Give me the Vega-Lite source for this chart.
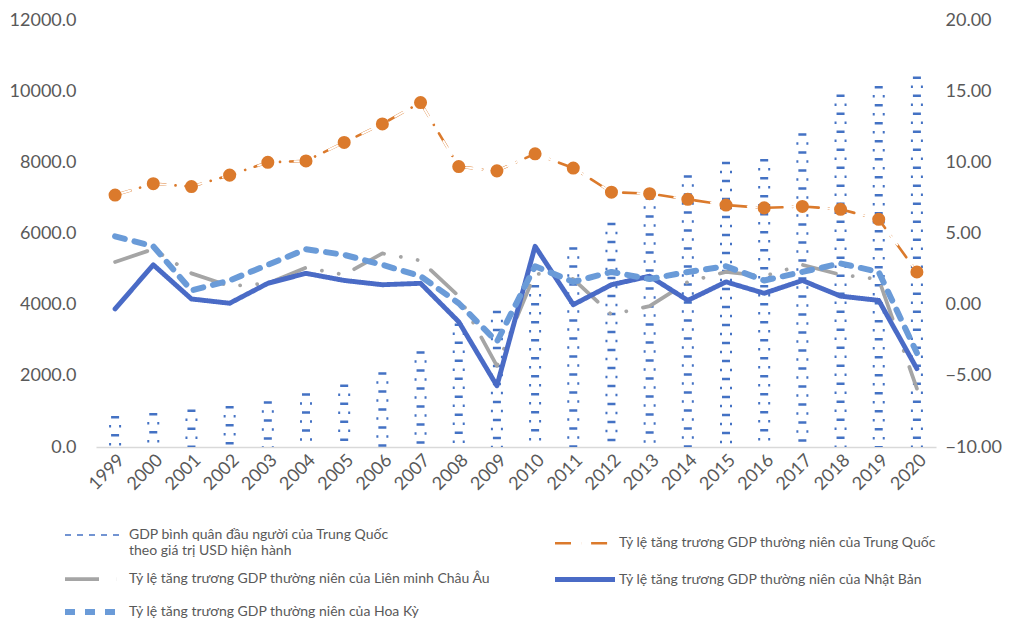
{
  "$schema": "https://vega.github.io/schema/vega-lite/v6.json",
  "width": 840,
  "height": 427,
  "padding": {"left": 9, "top": 11, "right": 5, "bottom": 0},
  "background": "white",
  "config": {
    "view": {"stroke": null},
    "font": "Lato",
    "axis": {"grid": false, "ticks": false, "domain": false, "labelColor": "#595959", "labelFontSize": 18, "labelFont": "Lato", "title": null}
  },
  "datasets": {
    "gdp": [
      {"year": "1999", "value": 873}, {"year": "2000", "value": 959}, {"year": "2001", "value": 1053},
      {"year": "2002", "value": 1149}, {"year": "2003", "value": 1289}, {"year": "2004", "value": 1509},
      {"year": "2005", "value": 1753}, {"year": "2006", "value": 2099}, {"year": "2007", "value": 2694},
      {"year": "2008", "value": 3468}, {"year": "2009", "value": 3832}, {"year": "2010", "value": 4550},
      {"year": "2011", "value": 5614}, {"year": "2012", "value": 6301}, {"year": "2013", "value": 7020},
      {"year": "2014", "value": 7636}, {"year": "2015", "value": 8016}, {"year": "2016", "value": 8094},
      {"year": "2017", "value": 8817}, {"year": "2018", "value": 9905}, {"year": "2019", "value": 10144},
      {"year": "2020", "value": 10409}
    ],
    "growth": [
      {"year": "1999", "series": "Tỷ lệ tăng trương GDP thường niên của Trung Quốc", "value": 7.7},
      {"year": "2000", "series": "Tỷ lệ tăng trương GDP thường niên của Trung Quốc", "value": 8.5},
      {"year": "2001", "series": "Tỷ lệ tăng trương GDP thường niên của Trung Quốc", "value": 8.3},
      {"year": "2002", "series": "Tỷ lệ tăng trương GDP thường niên của Trung Quốc", "value": 9.1},
      {"year": "2003", "series": "Tỷ lệ tăng trương GDP thường niên của Trung Quốc", "value": 10.0},
      {"year": "2004", "series": "Tỷ lệ tăng trương GDP thường niên của Trung Quốc", "value": 10.1},
      {"year": "2005", "series": "Tỷ lệ tăng trương GDP thường niên của Trung Quốc", "value": 11.4},
      {"year": "2006", "series": "Tỷ lệ tăng trương GDP thường niên của Trung Quốc", "value": 12.7},
      {"year": "2007", "series": "Tỷ lệ tăng trương GDP thường niên của Trung Quốc", "value": 14.2},
      {"year": "2008", "series": "Tỷ lệ tăng trương GDP thường niên của Trung Quốc", "value": 9.7},
      {"year": "2009", "series": "Tỷ lệ tăng trương GDP thường niên của Trung Quốc", "value": 9.4},
      {"year": "2010", "series": "Tỷ lệ tăng trương GDP thường niên của Trung Quốc", "value": 10.6},
      {"year": "2011", "series": "Tỷ lệ tăng trương GDP thường niên của Trung Quốc", "value": 9.6},
      {"year": "2012", "series": "Tỷ lệ tăng trương GDP thường niên của Trung Quốc", "value": 7.9},
      {"year": "2013", "series": "Tỷ lệ tăng trương GDP thường niên của Trung Quốc", "value": 7.8},
      {"year": "2014", "series": "Tỷ lệ tăng trương GDP thường niên của Trung Quốc", "value": 7.4},
      {"year": "2015", "series": "Tỷ lệ tăng trương GDP thường niên của Trung Quốc", "value": 7.0},
      {"year": "2016", "series": "Tỷ lệ tăng trương GDP thường niên của Trung Quốc", "value": 6.8},
      {"year": "2017", "series": "Tỷ lệ tăng trương GDP thường niên của Trung Quốc", "value": 6.9},
      {"year": "2018", "series": "Tỷ lệ tăng trương GDP thường niên của Trung Quốc", "value": 6.7},
      {"year": "2019", "series": "Tỷ lệ tăng trương GDP thường niên của Trung Quốc", "value": 6.0},
      {"year": "2020", "series": "Tỷ lệ tăng trương GDP thường niên của Trung Quốc", "value": 2.3},
      {"year": "1999", "series": "Tỷ lệ tăng trương GDP thường niên của Liên minh Châu Âu", "value": 3.0},
      {"year": "2000", "series": "Tỷ lệ tăng trương GDP thường niên của Liên minh Châu Âu", "value": 3.9},
      {"year": "2001", "series": "Tỷ lệ tăng trương GDP thường niên của Liên minh Châu Âu", "value": 2.2},
      {"year": "2002", "series": "Tỷ lệ tăng trương GDP thường niên của Liên minh Châu Âu", "value": 1.3},
      {"year": "2003", "series": "Tỷ lệ tăng trương GDP thường niên của Liên minh Châu Âu", "value": 1.5},
      {"year": "2004", "series": "Tỷ lệ tăng trương GDP thường niên của Liên minh Châu Âu", "value": 2.6},
      {"year": "2005", "series": "Tỷ lệ tăng trương GDP thường niên của Liên minh Châu Âu", "value": 2.1},
      {"year": "2006", "series": "Tỷ lệ tăng trương GDP thường niên của Liên minh Châu Âu", "value": 3.6},
      {"year": "2007", "series": "Tỷ lệ tăng trương GDP thường niên của Liên minh Châu Âu", "value": 3.1},
      {"year": "2008", "series": "Tỷ lệ tăng trương GDP thường niên của Liên minh Châu Âu", "value": 0.6},
      {"year": "2009", "series": "Tỷ lệ tăng trương GDP thường niên của Liên minh Châu Âu", "value": -4.3},
      {"year": "2010", "series": "Tỷ lệ tăng trương GDP thường niên của Liên minh Châu Âu", "value": 2.2},
      {"year": "2011", "series": "Tỷ lệ tăng trương GDP thường niên của Liên minh Châu Âu", "value": 1.8},
      {"year": "2012", "series": "Tỷ lệ tăng trương GDP thường niên của Liên minh Châu Âu", "value": -0.7},
      {"year": "2013", "series": "Tỷ lệ tăng trương GDP thường niên của Liên minh Châu Âu", "value": -0.1},
      {"year": "2014", "series": "Tỷ lệ tăng trương GDP thường niên của Liên minh Châu Âu", "value": 1.6},
      {"year": "2015", "series": "Tỷ lệ tăng trương GDP thường niên của Liên minh Châu Âu", "value": 2.3},
      {"year": "2016", "series": "Tỷ lệ tăng trương GDP thường niên của Liên minh Châu Âu", "value": 2.0},
      {"year": "2017", "series": "Tỷ lệ tăng trương GDP thường niên của Liên minh Châu Âu", "value": 2.8},
      {"year": "2018", "series": "Tỷ lệ tăng trương GDP thường niên của Liên minh Châu Âu", "value": 2.1},
      {"year": "2019", "series": "Tỷ lệ tăng trương GDP thường niên của Liên minh Châu Âu", "value": 1.8},
      {"year": "2020", "series": "Tỷ lệ tăng trương GDP thường niên của Liên minh Châu Âu", "value": -5.9},
      {"year": "1999", "series": "Tỷ lệ tăng trương GDP thường niên của Nhật Bản", "value": -0.3},
      {"year": "2000", "series": "Tỷ lệ tăng trương GDP thường niên của Nhật Bản", "value": 2.8},
      {"year": "2001", "series": "Tỷ lệ tăng trương GDP thường niên của Nhật Bản", "value": 0.4},
      {"year": "2002", "series": "Tỷ lệ tăng trương GDP thường niên của Nhật Bản", "value": 0.1},
      {"year": "2003", "series": "Tỷ lệ tăng trương GDP thường niên của Nhật Bản", "value": 1.5},
      {"year": "2004", "series": "Tỷ lệ tăng trương GDP thường niên của Nhật Bản", "value": 2.2},
      {"year": "2005", "series": "Tỷ lệ tăng trương GDP thường niên của Nhật Bản", "value": 1.7},
      {"year": "2006", "series": "Tỷ lệ tăng trương GDP thường niên của Nhật Bản", "value": 1.4},
      {"year": "2007", "series": "Tỷ lệ tăng trương GDP thường niên của Nhật Bản", "value": 1.5},
      {"year": "2008", "series": "Tỷ lệ tăng trương GDP thường niên của Nhật Bản", "value": -1.2},
      {"year": "2009", "series": "Tỷ lệ tăng trương GDP thường niên của Nhật Bản", "value": -5.7},
      {"year": "2010", "series": "Tỷ lệ tăng trương GDP thường niên của Nhật Bản", "value": 4.1},
      {"year": "2011", "series": "Tỷ lệ tăng trương GDP thường niên của Nhật Bản", "value": 0.0},
      {"year": "2012", "series": "Tỷ lệ tăng trương GDP thường niên của Nhật Bản", "value": 1.4},
      {"year": "2013", "series": "Tỷ lệ tăng trương GDP thường niên của Nhật Bản", "value": 2.0},
      {"year": "2014", "series": "Tỷ lệ tăng trương GDP thường niên của Nhật Bản", "value": 0.3},
      {"year": "2015", "series": "Tỷ lệ tăng trương GDP thường niên của Nhật Bản", "value": 1.6},
      {"year": "2016", "series": "Tỷ lệ tăng trương GDP thường niên của Nhật Bản", "value": 0.8},
      {"year": "2017", "series": "Tỷ lệ tăng trương GDP thường niên của Nhật Bản", "value": 1.7},
      {"year": "2018", "series": "Tỷ lệ tăng trương GDP thường niên của Nhật Bản", "value": 0.6},
      {"year": "2019", "series": "Tỷ lệ tăng trương GDP thường niên của Nhật Bản", "value": 0.3},
      {"year": "2020", "series": "Tỷ lệ tăng trương GDP thường niên của Nhật Bản", "value": -4.5},
      {"year": "1999", "series": "Tỷ lệ tăng trương GDP thường niên của Hoa Kỳ", "value": 4.8},
      {"year": "2000", "series": "Tỷ lệ tăng trương GDP thường niên của Hoa Kỳ", "value": 4.1},
      {"year": "2001", "series": "Tỷ lệ tăng trương GDP thường niên của Hoa Kỳ", "value": 1.0},
      {"year": "2002", "series": "Tỷ lệ tăng trương GDP thường niên của Hoa Kỳ", "value": 1.7},
      {"year": "2003", "series": "Tỷ lệ tăng trương GDP thường niên của Hoa Kỳ", "value": 2.8},
      {"year": "2004", "series": "Tỷ lệ tăng trương GDP thường niên của Hoa Kỳ", "value": 3.9},
      {"year": "2005", "series": "Tỷ lệ tăng trương GDP thường niên của Hoa Kỳ", "value": 3.5},
      {"year": "2006", "series": "Tỷ lệ tăng trương GDP thường niên của Hoa Kỳ", "value": 2.8},
      {"year": "2007", "series": "Tỷ lệ tăng trương GDP thường niên của Hoa Kỳ", "value": 2.0},
      {"year": "2008", "series": "Tỷ lệ tăng trương GDP thường niên của Hoa Kỳ", "value": 0.1},
      {"year": "2009", "series": "Tỷ lệ tăng trương GDP thường niên của Hoa Kỳ", "value": -2.6},
      {"year": "2010", "series": "Tỷ lệ tăng trương GDP thường niên của Hoa Kỳ", "value": 2.7},
      {"year": "2011", "series": "Tỷ lệ tăng trương GDP thường niên của Hoa Kỳ", "value": 1.6},
      {"year": "2012", "series": "Tỷ lệ tăng trương GDP thường niên của Hoa Kỳ", "value": 2.3},
      {"year": "2013", "series": "Tỷ lệ tăng trương GDP thường niên của Hoa Kỳ", "value": 1.8},
      {"year": "2014", "series": "Tỷ lệ tăng trương GDP thường niên của Hoa Kỳ", "value": 2.3},
      {"year": "2015", "series": "Tỷ lệ tăng trương GDP thường niên của Hoa Kỳ", "value": 2.7},
      {"year": "2016", "series": "Tỷ lệ tăng trương GDP thường niên của Hoa Kỳ", "value": 1.7},
      {"year": "2017", "series": "Tỷ lệ tăng trương GDP thường niên của Hoa Kỳ", "value": 2.3},
      {"year": "2018", "series": "Tỷ lệ tăng trương GDP thường niên của Hoa Kỳ", "value": 2.9},
      {"year": "2019", "series": "Tỷ lệ tăng trương GDP thường niên của Hoa Kỳ", "value": 2.3},
      {"year": "2020", "series": "Tỷ lệ tăng trương GDP thường niên của Hoa Kỳ", "value": -3.4}
    ]
  },
  "encoding": {
    "x": {
      "field": "year", "type": "ordinal",
      "scale": {"type": "point", "padding": 0.5},
      "axis": {"labelAngle": -45, "domain": true, "domainColor": "#D9D9D9", "domainWidth": 1.5, "labelPadding": 4}
    }
  },
  "layer": [
    {
      "data": {"name": "gdp"},
      "encoding": {
        "y": {
          "field": "value", "type": "quantitative",
          "scale": {"domain": [0, 12000], "nice": false},
          "axis": {"orient": "left", "values": [0, 2000, 4000, 6000, 8000, 10000, 12000], "format": ".1f", "labelPadding": 20}
        },
        "y2": {"datum": 0}
      },
      "layer": [
        {"mark": {"type": "rule", "color": "#4472C4", "strokeWidth": 8, "strokeDash": [2.5, 15.5]}},
        {"mark": {"type": "rule", "color": "#4472C4", "strokeWidth": 2, "strokeDash": [2.5, 15.5], "strokeDashOffset": 9, "xOffset": -5}},
        {"mark": {"type": "rule", "color": "#4472C4", "strokeWidth": 2, "strokeDash": [2.5, 15.5], "strokeDashOffset": 9, "xOffset": 5}}
      ]
    },
    {
      "data": {"name": "growth"},
      "encoding": {
        "y": {
          "field": "value", "type": "quantitative",
          "scale": {"domain": [-10, 20], "nice": false},
          "axis": {"orient": "right", "values": [-10, -5, 0, 5, 10, 15, 20], "format": ".2f", "labelPadding": 9}
        }
      },
      "layer": [
        {
          "mark": {"type": "line", "strokeCap": "round", "strokeJoin": "round"},
          "encoding": {
            "color": {
              "field": "series", "type": "nominal",
              "scale": {
                "domain": ["GDP bình quân đầu người của Trung Quốc theo giá trị USD hiện hành", "Tỷ lệ tăng trương GDP thường niên của Trung Quốc", "Tỷ lệ tăng trương GDP thường niên của Liên minh Châu Âu", "Tỷ lệ tăng trương GDP thường niên của Nhật Bản", "Tỷ lệ tăng trương GDP thường niên của Hoa Kỳ"],
                "range": ["#4472C4", "#DB7A2C", "#A5A5A5", "#4A6BC6", "#6A9BD8"]
              },
              "legend": {
                "title": null, "orient": "none", "legendX": -14, "legendY": 504, "columns": 2, "direction": "horizontal",
                "columnPadding": 54, "rowPadding": 9, "symbolType": "M-3,0H3", "symbolSize": 400,
                "labelFontSize": 14, "labelColor": "#595959", "labelLimit": 600, "labelOffset": 21,
                "labelExpr": "datum.label == 'GDP bình quân đầu người của Trung Quốc theo giá trị USD hiện hành' ? ['GDP bình quân đầu người của Trung Quốc', 'theo giá trị USD hiện hành'] : datum.label"
              }
            },
            "strokeDash": {
              "field": "series", "type": "nominal",
              "scale": {
                "domain": ["GDP bình quân đầu người của Trung Quốc theo giá trị USD hiện hành", "Tỷ lệ tăng trương GDP thường niên của Trung Quốc", "Tỷ lệ tăng trương GDP thường niên của Liên minh Châu Âu", "Tỷ lệ tăng trương GDP thường niên của Nhật Bản", "Tỷ lệ tăng trương GDP thường niên của Hoa Kỳ"],
                "range": [[6, 6], [16, 10, 0.1, 10], [34, 17, 0.1, 17, 0.1, 17], [1, 0], [10, 10]]
              }
            },
            "strokeWidth": {
              "field": "series", "type": "nominal",
              "scale": {
                "domain": ["GDP bình quân đầu người của Trung Quốc theo giá trị USD hiện hành", "Tỷ lệ tăng trương GDP thường niên của Trung Quốc", "Tỷ lệ tăng trương GDP thường niên của Liên minh Châu Âu", "Tỷ lệ tăng trương GDP thường niên của Nhật Bản", "Tỷ lệ tăng trương GDP thường niên của Hoa Kỳ"],
                "range": [1.5, 6, 5.5, 5, 5]
              }
            }
          }
        },
        {
          "transform": [{"filter": "datum.series == 'Tỷ lệ tăng trương GDP thường niên của Trung Quốc'"}],
          "mark": {"type": "line", "color": "white", "strokeWidth": 2, "strokeDash": [16, 21], "strokeCap": "round"}
        },
        {
          "transform": [{"filter": "datum.series == 'Tỷ lệ tăng trương GDP thường niên của Trung Quốc'"}],
          "mark": {"type": "point", "filled": true, "shape": "circle", "size": 170, "color": "#DB7A2C", "opacity": 1}
        }
      ]
    }
  ],
  "resolve": {"scale": {"y": "independent"}}
}
